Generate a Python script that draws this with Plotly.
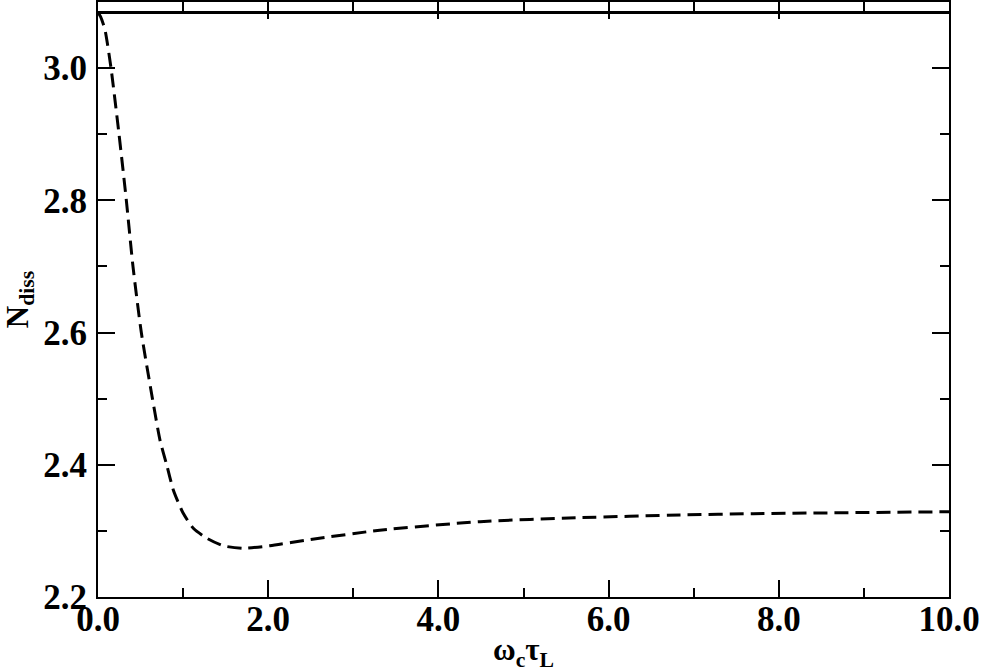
import plotly.graph_objects as go

# Data
x_dashed = [0, 0.03, 0.082, 0.153, 0.247, 0.333, 0.411, 0.509, 0.64, 0.729, 0.807,
            0.885, 1.0, 1.12, 1.277, 1.47, 1.71, 2.02, 2.5, 3.31, 4.49, 5.66, 6.84, 7.7, 10]
y_dashed = [3.084, 3.078, 3.058, 3.0, 2.9, 2.8, 2.7, 2.6, 2.5, 2.437, 2.40,
            2.362, 2.327, 2.304, 2.289, 2.2775, 2.2737, 2.2775, 2.287, 2.301, 2.314,
            2.320, 2.324, 2.326, 2.329]
x_solid = [0, 10]
y_solid = [3.084, 3.084]

x_ticks = [0, 2, 4, 6, 8, 10]
x_ticklabels = ["0.0", "2.0", "4.0", "6.0", "8.0", "10.0"]
y_ticks = [2.2, 2.4, 2.6, 2.8, 3.0]
y_ticklabels = ["2.2", "2.4", "2.6", "2.8", "3.0"]

FONT = "Liberation Serif"

fig = go.Figure()
fig.add_trace(go.Scatter(x=x_solid, y=y_solid, mode="lines",
                         line=dict(color="black", width=3), showlegend=False))
fig.add_trace(go.Scatter(x=x_dashed, y=y_dashed, mode="lines",
                         line=dict(color="black", width=3, dash="14px,7px", shape="spline", smoothing=0.6),
                         showlegend=False))

axis_common = dict(
    showgrid=False, zeroline=False, showline=True, linecolor="black", linewidth=2,
    mirror="allticks", ticks="inside", ticklen=17, tickwidth=1.5, tickcolor="black",
    tickfont=dict(family=FONT, size=35, color="black", weight="bold"),
)

fig.update_layout(
    width=981, height=672,
    margin=dict(l=98, r=32, t=2, b=75, autoexpand=False),
    paper_bgcolor="white", plot_bgcolor="white",
    xaxis=dict(
        range=[0, 10], tickvals=x_ticks, ticktext=x_ticklabels,
        minor=dict(dtick=1, ticks="inside", ticklen=9, tickwidth=1.5, tickcolor="black"),
        title=dict(text="<b>ω<sub>c</sub>τ<sub>L</sub></b>", font=dict(family=FONT, size=31, color="black"),
                   standoff=2),
        ticklabelstandoff=-10,
        **axis_common,
    ),
    yaxis=dict(
        range=[2.2, 3.1], tickvals=y_ticks, ticktext=y_ticklabels,
        minor=dict(dtick=0.1, ticks="inside", ticklen=9, tickwidth=1.5, tickcolor="black"),
        title=dict(text="<b>N<sub>diss</sub></b>", font=dict(family=FONT, size=31, color="black"),
                   standoff=24),
        ticklabelstandoff=2,
        **axis_common,
    ),
)

fig.write_html("out.html", config={"displayModeBar": False},
               post_script="document.body.style.margin='0';document.body.style.overflow='hidden';")
